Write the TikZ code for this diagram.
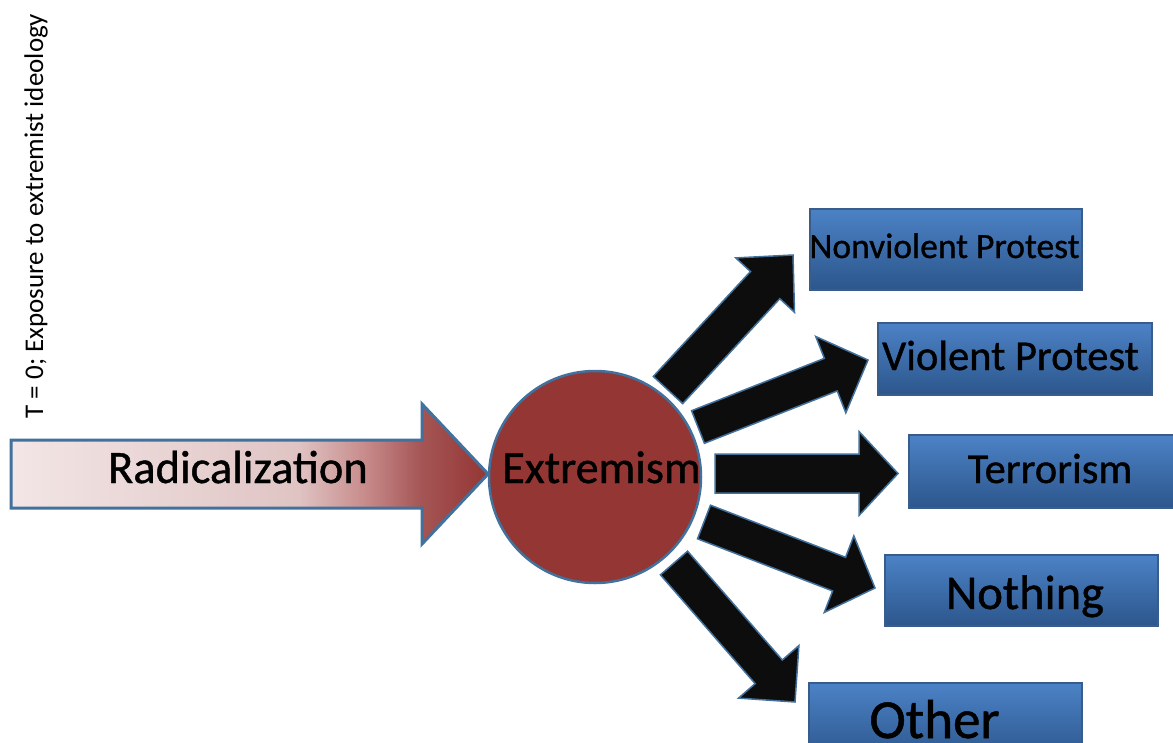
\documentclass[tikz,border=0pt]{standalone}
\usepackage{fontspec}
\setmainfont{Carlito}
\newfontfamily\heavyfont[FakeBold=0.9]{Carlito}
\usetikzlibrary{calc}
\definecolor{edgeblue}{RGB}{65,113,156}
\definecolor{boxedge}{RGB}{56,93,138}
\definecolor{boxtop}{RGB}{76,130,198}
\definecolor{boxbot}{RGB}{44,86,140}
\definecolor{extred}{RGB}{148,54,52}
\definecolor{radA}{RGB}{243,230,230}
\definecolor{radB}{RGB}{224,196,196}
\definecolor{radC}{RGB}{200,140,140}
\definecolor{radE}{RGB}{165,85,85}
\definecolor{radD}{RGB}{148,54,52}
\pgfdeclarehorizontalshading{radshade}{100bp}{color(0bp)=(radA); color(25bp)=(radA); color(55bp)=(radB); color(62bp)=(radC); color(68bp)=(radE); color(75bp)=(radD); color(100bp)=(radD)}
% style, start, end, shaft half width, head half width, head length
\newcommand\fatarrow[6]{%
  \coordinate (#2-h) at ($(#3)!#6!(#2)$);
  \draw[#1] ($(#2)!#4!90:(#3)$) -- ($(#2-h)!#4!90:(#3)$) -- ($(#2-h)!#5!90:(#3)$)
    -- (#3) -- ($(#2-h)!#5!-90:(#3)$) -- ($(#2-h)!#4!-90:(#3)$) -- ($(#2)!#4!-90:(#3)$) -- cycle;
}
\tikzset{
  blackarrow/.style={fill=black!95, draw=edgeblue, line width=1.5pt, line join=miter},
  radarrow/.style={shade, shading=radshade, draw=edgeblue, line width=3pt, line join=miter},
  outbox/.style={rectangle, draw=boxedge, line width=2pt, top color=boxtop, bottom color=boxbot, inner sep=0pt},
  lbl/.style={anchor=base, text=black, inner sep=0pt},
}
\begin{document}
\begin{tikzpicture}[x=1pt, y=-1pt]
\useasboundingbox (0,0) rectangle (1173,742);
\clip (0,0) rectangle (1173,742);
\fill[white] (0,0) rectangle (1173,742);

% rotated label
\node[lbl, rotate=90, font=\fontsize{27}{32}\selectfont] (tlabel) at (43,216) {T = 0; Exposure to extremist ideology};

% central circle
\node[circle, fill=extred, draw=edgeblue, line width=2.5pt, minimum size=212pt, inner sep=0pt] (ext) at (595,477) {};

% radicalization arrow
\coordinate (radstart) at (11,474);
\coordinate (radtip) at (488,474);
\fatarrow{radarrow}{radstart}{radtip}{34pt}{70pt}{66pt}
\node[lbl, font=\heavyfont\fontsize{46.5}{52}\selectfont] (radtext) at (238,483) {Radicalization};
\node[lbl, font=\heavyfont\fontsize{46}{52}\selectfont] (exttext) at (601.5,483) {Extremism};

% outcome boxes
\node[outbox, minimum width=272pt, minimum height=81pt] (nv) at (946,249) {};
\node[outbox, minimum width=274pt, minimum height=72pt] (vp) at (1015,359) {};
\node[outbox, minimum width=276pt, minimum height=73pt] (tr) at (1047,471.5) {};
\node[outbox, minimum width=273pt, minimum height=71pt] (no) at (1021.5,590.5) {};
\node[outbox, minimum width=273pt, minimum height=77pt] (ot) at (945.5,721.5) {};

\node[lbl, font=\heavyfont\fontsize{35.5}{40}\selectfont] (nvt) at (944.5,258) {Nonviolent Protest};
\node[lbl, font=\heavyfont\fontsize{42.5}{48}\selectfont] (vpt) at (1010.5,370) {Violent Protest};
\node[lbl, font=\heavyfont\fontsize{42.5}{48}\selectfont] (trt) at (1050,483) {Terrorism};
\node[lbl, font=\heavyfont\fontsize{48.5}{54}\selectfont] (not) at (1025,609) {Nothing};
\node[lbl, font=\heavyfont\fontsize{55}{60}\selectfont] (ott) at (934.5,738) {Other};

% black arrows
\coordinate (a1s) at (668,390); \coordinate (a1e) at (793,255);
\coordinate (a2s) at (698,427); \coordinate (a2e) at (868,360);
\coordinate (a3s) at (715,473.5); \coordinate (a3e) at (898,473.5);
\coordinate (a4s) at (704,522); \coordinate (a4e) at (875,588);
\coordinate (a5s) at (674,563); \coordinate (a5e) at (795,702);
\fatarrow{blackarrow}{a1s}{a1e}{20pt}{40pt}{41pt}
\fatarrow{blackarrow}{a2s}{a2e}{17.5pt}{41pt}{40pt}
\fatarrow{blackarrow}{a3s}{a3e}{19.5pt}{42pt}{39pt}
\fatarrow{blackarrow}{a4s}{a4e}{18pt}{41pt}{38.5pt}
\fatarrow{blackarrow}{a5s}{a5e}{18pt}{40pt}{40pt}
\end{tikzpicture}
\end{document}
